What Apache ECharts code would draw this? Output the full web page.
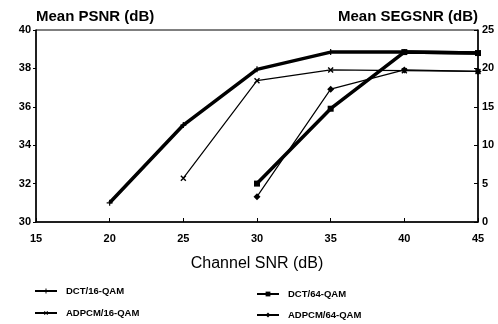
<!DOCTYPE html>
<html>
<head>
<meta charset="utf-8">
<script src="https://cdn.jsdelivr.net/npm/echarts@6/dist/echarts.min.js"></script>
<style>
  html, body { margin: 0; padding: 0; background: #fff; }
  #chart { width: 498px; height: 324px; }
</style>
</head>
<body>
<div id="chart"></div>
<script>
// Channel SNR (dB) on x; DCT curves on PSNR axis (left), ADPCM on SEGSNR axis (right)
var dct16 = [[20, 31.0], [25, 35.05], [30, 37.95], [35, 38.85], [40, 38.85], [45, 38.8]];
var adpcm16 = [[25, 5.7], [30, 18.4], [35, 19.8], [40, 19.7], [45, 19.6]];
var dct64 = [[30, 32.0], [35, 35.9], [40, 38.85], [45, 38.8]];
var adpcm64 = [[30, 3.3], [35, 17.3], [40, 19.8], [45, 19.6]];

var seriesNames = ["DCT/16-QAM", "ADPCM/16-QAM", "DCT/64-QAM", "ADPCM/64-QAM"];

var plusPath = 'path://M0,4L10,4L10,6L0,6ZM4,0L6,0L6,10L4,10Z';

var chart = echarts.init(document.getElementById("chart"));

var tickFont = { color: '#000', fontFamily: 'Liberation Sans, Arial', fontWeight: 'bold', fontSize: 11 };
var legendFont = { color: '#000', fontFamily: 'Liberation Sans, Arial', fontWeight: 'bold', fontSize: 9.5 };

function legendAt(name, left, top) {
    return {
        data: [name],
        left: left,
        top: top,
        orient: 'horizontal',
        itemWidth: 22,
        itemHeight: 6,
        itemGap: 0,
        padding: 0,
        textStyle: Object.assign({ padding: [0, 0, 0, 4] }, legendFont),
        selectedMode: false
    };
}

var option = {
    animation: false,
    backgroundColor: '#fff',
    grid: {
        left: 36, right: 20, top: 30, bottom: 102,
        show: true, borderColor: '#000', borderWidth: 1
    },
    legend: [
        legendAt(seriesNames[0], 34, 286),
        legendAt(seriesNames[1], 34, 308),
        legendAt(seriesNames[2], 256, 289),
        legendAt(seriesNames[3], 256, 310)
    ],
    xAxis: {
        type: 'value',
        min: 15, max: 45, interval: 5,
        name: 'Channel SNR (dB)',
        nameLocation: 'middle',
        nameGap: 34,
        nameTextStyle: { color: '#000', fontFamily: 'Liberation Sans, Arial', fontSize: 16 },
        axisLine: { lineStyle: { color: '#000', width: 1.5 } },
        axisTick: { inside: true, length: 4, lineStyle: { color: '#000' } },
        axisLabel: Object.assign({ margin: 11 }, tickFont),
        splitLine: { show: false }
    },
    yAxis: [
        {
            type: 'value',
            min: 30, max: 40, interval: 2,
            position: 'left',
            name: 'Mean PSNR (dB)',
            nameLocation: 'end',
            nameGap: 1,
            nameTextStyle: { color: '#000', fontFamily: 'Liberation Sans, Arial', fontWeight: 'bold', fontSize: 15, align: 'left', verticalAlign: 'bottom', padding: [0, 0, -3, 0] },
            axisLine: { show: true, lineStyle: { color: '#000', width: 1.5 } },
            axisTick: { show: true, length: 3, lineStyle: { color: '#000' } },
            axisLabel: Object.assign({ margin: 5 }, tickFont),
            splitLine: { show: false }
        },
        {
            type: 'value',
            min: 0, max: 25, interval: 5,
            position: 'right',
            name: 'Mean SEGSNR (dB)',
            nameLocation: 'end',
            nameGap: 0,
            nameTextStyle: { color: '#000', fontFamily: 'Liberation Sans, Arial', fontWeight: 'bold', fontSize: 15, align: 'right', verticalAlign: 'bottom', padding: [0, 0, -4, 0] },
            axisLine: { show: true, lineStyle: { color: '#000', width: 1.5 } },
            axisTick: { show: true, inside: true, length: 4, lineStyle: { color: '#000' } },
            axisLabel: Object.assign({ margin: 4 }, tickFont),
            splitLine: { show: false }
        }
    ],
    series: [
        {
            name: seriesNames[0], type: 'line', yAxisIndex: 0, data: dct16,
            symbol: plusPath, symbolSize: 6,
            lineStyle: { color: '#000', width: 3.5 },
            itemStyle: { color: '#000' }
        },
        {
            name: seriesNames[1], type: 'line', yAxisIndex: 1, data: adpcm16,
            symbol: plusPath, symbolSize: 7, symbolRotate: 45,
            lineStyle: { color: '#000', width: 1.2 },
            itemStyle: { color: '#000' }
        },
        {
            name: seriesNames[2], type: 'line', yAxisIndex: 0, data: dct64,
            symbol: 'rect', symbolSize: 6,
            lineStyle: { color: '#000', width: 3.5 },
            itemStyle: { color: '#000' }
        },
        {
            name: seriesNames[3], type: 'line', yAxisIndex: 1, data: adpcm64,
            symbol: 'diamond', symbolSize: 7,
            lineStyle: { color: '#000', width: 1.2 },
            itemStyle: { color: '#000' }
        }
    ]
};

chart.setOption(option);
</script>
</body>
</html>
